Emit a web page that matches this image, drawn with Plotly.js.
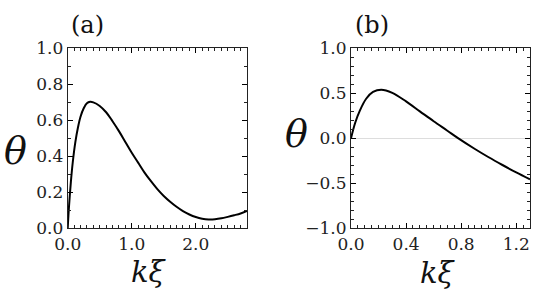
<!DOCTYPE html>
<html>
<head>
<meta charset="utf-8">
<script src="https://cdn.plot.ly/plotly-3.0.1.min.js"></script>
<style>html,body{margin:0;padding:0;background:#fff}#chart{width:540px;height:297px}</style>
</head>
<body>
<div id="chart"></div>
<script>
// Panel (a)
const kxiA = [0, 0.02, 0.05, 0.08, 0.12, 0.16, 0.2, 0.25, 0.3, 0.35, 0.4, 0.5, 0.6, 0.7, 0.8, 0.9, 1.0, 1.1, 1.2, 1.3, 1.4, 1.5, 1.6, 1.7, 1.8, 1.9, 2.0, 2.1, 2.2, 2.3, 2.4, 2.5, 2.6, 2.7, 2.8];
const thetaA = [0, 0.12, 0.26, 0.37, 0.48, 0.56, 0.62, 0.667, 0.695, 0.703, 0.70, 0.68, 0.645, 0.595, 0.54, 0.48, 0.42, 0.365, 0.31, 0.262, 0.218, 0.18, 0.148, 0.12, 0.096, 0.077, 0.063, 0.054, 0.05, 0.051, 0.056, 0.064, 0.073, 0.083, 0.097];
// Panel (b)
const kxiB = [0, 0.03, 0.065, 0.11, 0.16, 0.22, 0.3, 0.4, 0.5, 0.6, 0.7, 0.78, 0.9, 1.0, 1.1, 1.2, 1.3];
const thetaB = [0, 0.17, 0.31, 0.44, 0.515, 0.54, 0.505, 0.41, 0.3, 0.19, 0.085, 0.0, -0.118, -0.21, -0.296, -0.378, -0.455];
// Axis ranges and tick steps
const rangeAx = [0, 2.8], dtickAx = 1.0, minorAx = 0.1;
const rangeAy = [0, 1.0], dtickAy = 0.2, minorAy = 0.1;
const rangeBx = [0, 1.3], dtickBx = 0.4, minorBx = 0.05;
const rangeBy = [-1.0, 1.0], dtickBy = 0.5, minorBy = 0.1;
const panelLabels = ["(a)", "(b)"];
const yLabel = "\u03b8";
const xLabel = "k\u03be";

const FONT = "DejaVu Serif";
const lineStyle = {color: "#000", width: 2, shape: "spline", smoothing: 1};

const traces = [
  {x: kxiA, y: thetaA, type: "scatter", mode: "lines", line: lineStyle, xaxis: "x", yaxis: "y", hoverinfo: "skip"},
  {x: kxiB, y: thetaB, type: "scatter", mode: "lines", line: lineStyle, xaxis: "x2", yaxis: "y2", hoverinfo: "skip"}
];

function ax(range, dtick, minor, extra) {
  return Object.assign({
    range: range, dtick: dtick, tickformat: ".1f",
    showline: true, linecolor: "#222", mirror: "ticks",
    ticks: "inside", ticklen: 5, tickwidth: 1.2, tickcolor: "#000",
    showgrid: false, zeroline: false,
    tickfont: {family: FONT, size: 17, color: "#222"},
    minor: {dtick: minor, ticks: "inside", ticklen: 3, tickwidth: 1.2, tickcolor: "#222", showgrid: false}
  }, extra);
}

const ydom = [68.6/297, 248.7/297];
const layout = {
  width: 540, height: 297,
  margin: {l: 0, r: 0, t: 0, b: 0},
  paper_bgcolor: "#fff", plot_bgcolor: "#fff",
  showlegend: false,
  xaxis: ax(rangeAx, dtickAx, minorAx, {domain: [67.7/540, 247/540], anchor: "y"}),
  yaxis: ax(rangeAy, dtickAy, minorAy, {domain: ydom, anchor: "x", zeroline: true, zerolinecolor: "#ddd", zerolinewidth: 1}),
  xaxis2: ax(rangeBx, dtickBx, minorBx, {domain: [351/540, 530/540], anchor: "y2"}),
  yaxis2: ax(rangeBy, dtickBy, minorBy, {domain: ydom, anchor: "x2", zeroline: true, zerolinecolor: "#ddd", zerolinewidth: 1}),
  annotations: [
    {text: panelLabels[0], x: 87.5/540, y: 1 - 25/297, xref: "paper", yref: "paper", showarrow: false, xanchor: "center", yanchor: "middle", font: {family: FONT, size: 24, color: "#111"}},
    {text: panelLabels[1], x: 371.7/540, y: 1 - 25/297, xref: "paper", yref: "paper", showarrow: false, xanchor: "center", yanchor: "middle", font: {family: FONT, size: 24, color: "#111"}},
    {text: "<i>" + yLabel + "</i>", x: 15.5/540, y: 1 - 151/297, xref: "paper", yref: "paper", showarrow: false, xanchor: "center", yanchor: "middle", font: {family: FONT, size: 38, color: "#111"}},
    {text: "<i>" + yLabel + "</i>", x: 296/540, y: 1 - 134/297, xref: "paper", yref: "paper", showarrow: false, xanchor: "center", yanchor: "middle", font: {family: FONT, size: 38, color: "#111"}},
    {text: "<i>" + xLabel + "</i>", x: 149/540, y: 1 - 272/297, xref: "paper", yref: "paper", showarrow: false, xanchor: "center", yanchor: "middle", font: {family: FONT, size: 29, color: "#111"}},
    {text: "<i>" + xLabel + "</i>", x: 437.5/540, y: 1 - 273/297, xref: "paper", yref: "paper", showarrow: false, xanchor: "center", yanchor: "middle", font: {family: FONT, size: 29, color: "#111"}}
  ]
};

Plotly.newPlot("chart", traces, layout, {displayModeBar: false});
</script>
</body>
</html>
